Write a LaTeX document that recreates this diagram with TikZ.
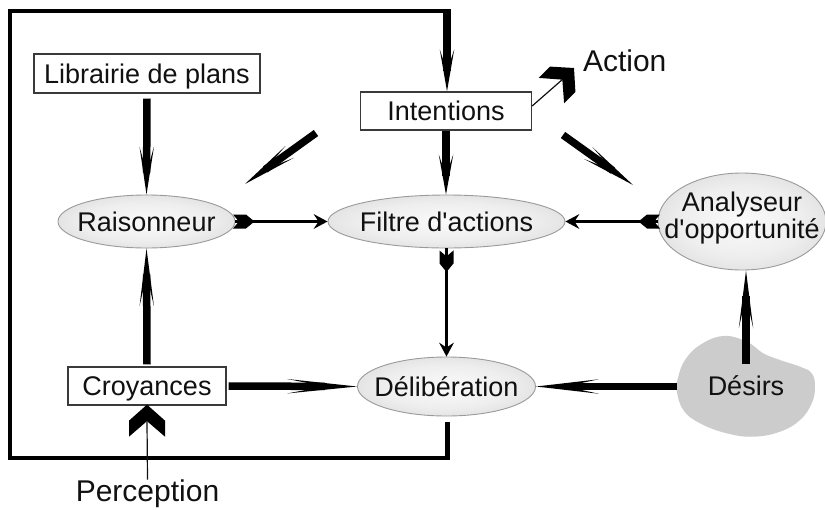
\documentclass[tikz,border=0pt]{standalone}
\usepackage{fontspec}
\setmainfont{Liberation Sans}[Ligatures=TeXOff]
\usetikzlibrary{arrows.meta,shapes.geometric,calc}

\definecolor{ellcore}{HTML}{FAFAFA}
\definecolor{ellin}{HTML}{EEEEEE}
\definecolor{ellout}{HTML}{C2C2C2}
\definecolor{ellrim}{HTML}{9A9A9A}
\definecolor{boxrim}{HTML}{3A3A3A}
\definecolor{blobgray}{HTML}{CCCCCC}
\definecolor{ink}{HTML}{111111}

% soft radial fill for the process ellipses
\pgfdeclareradialshading{ellshade}{\pgfpoint{0bp}{0bp}}{color(0bp)=(ellcore); color(18bp)=(ellin); color(50bp)=(ellout)}

\tikzset{
  lbltext/.style={font=\fontsize{27pt}{25pt}\selectfont, text=ink,
    text height=19.3pt, text depth=0pt, inner sep=0pt},
  plainbox/.style={lbltext, rectangle, draw=boxrim, line width=1.3pt, fill=white},
  ellnode/.style={lbltext, ellipse, draw=ellrim, line width=0.9pt,
    shade, shading=ellshade, inner xsep=-12pt},
  outerlbl/.style={font=\fontsize{30pt}{32pt}\selectfont, text=ink,
    text height=21.5pt, text depth=0pt, inner sep=0pt},
  spear/.style 2 args={draw=black, line width=7.5pt,
    -{Stealth[length=#1, width=14.5pt, inset=#2, line width=0pt]}},
  thinarrow/.style={draw=black, line width=2.2pt,
    -{Stealth[length=14pt, width=15pt, inset=5pt, line width=0pt]}},
  frame/.style={draw=black, line width=3.2pt, line join=miter},
  pics/tailmark/.style={code={
    \fill (0,0) -- (-8.5,7) -- (-21.5,7) -- (-15.5,0) -- (-21.5,-7) -- (-8.5,-7) -- cycle;}},
  pics/bigchevron/.style={code={
    \fill (0,0) -- (-16,18) -- (-32,18) -- (-16.5,0) -- (-32,-18) -- (-16,-18) -- cycle;}},
}

\begin{document}
\begin{tikzpicture}[x=1pt, y=-1pt]
\useasboundingbox (0,0) rectangle (825,509);

% outer loop frame
\coordinate (ftl) at (10,11);
\coordinate (ftr) at (447,11);
\coordinate (fbl) at (10,458);
\coordinate (fbr) at (447,458);

% desire blob
\fill[blobgray] plot[smooth cycle, tension=0.7] coordinates {
  (723.3,336) (746.7,341.7) (763.3,353.3) (780,360) (800,366.7) (811.7,373.3)
  (815,386.7) (811.7,403.3) (800,420) (780,431.7) (753.3,436.7) (726.7,433.3)
  (700,423.3) (683.3,410) (676.7,390) (678.3,376.7) (685,360) (700,345)};

% nodes
\node[plainbox, minimum width=226pt, minimum height=39pt] (lib) at (147,73.5) {Librairie de plans};
\node[plainbox, minimum width=171pt, minimum height=38pt] (int) at (446,111) {Intentions};
\node[plainbox, minimum width=158pt, minimum height=38pt] (cro) at (147,386) {Croyances};
\node[ellnode, minimum width=177pt, minimum height=53pt] (rais) at (146.5,221.5) {Raisonneur};
\node[ellnode, minimum width=237pt, minimum height=53pt] (filt) at (446.5,221.5) {Filtre d'actions};
\node[ellnode, minimum width=178pt, minimum height=59pt] (delib) at (446.5,386.5) {Délibération};
\node[ellnode, minimum width=168pt, minimum height=97pt] (analy) at (742,221.5) {};
\node[font=\fontsize{27pt}{25pt}\selectfont, text=ink, align=center, inner sep=0pt]
  (analytext) at (742,218) {Analyseur\\d'opportunité};
\node[lbltext] (des) at (746,386) {Désirs};
\node[outerlbl] (actlbl) at (624.7,60.3) {Action};
\node[outerlbl] (perc) at (147.5,490.5) {Perception};

\coordinate (desup) at (746,364);
\coordinate (deswest) at (677,386.5);
\coordinate (dlA) at (316,133);
\coordinate (dlB) at (245,184);
\coordinate (drA) at (563,135);
\coordinate (drB) at (633,185);
\coordinate (acttip) at (574,68);
\coordinate (perctip) at ($(cro.south)+(0,-1)$);

% frame
\draw[frame] (fbr) -- (fbl) -- (ftl) -- (ftr);
\draw[line width=5pt] ([yshift=-6pt]delib.south -| fbr) -- ([yshift=-1.6pt]fbr);
\draw[spear={42pt}{22pt}] ([yshift=1.6pt]ftr) -- (ftr |- int.north);

% heavy flows
\draw[spear={48pt}{26pt}] ([yshift=-5pt]lib.south) -- (rais.north);
\draw[spear={58pt}{32pt}] ([yshift=2pt]cro.north) -- (rais.south);
\draw[spear={40pt}{21pt}] (int.south) -- (int.south |- filt.north);
\draw[spear={70pt}{38pt}] ([xshift=2pt]cro.east) -- (delib.west);
\draw[spear={63pt}{34pt}] (deswest) -- (delib.east);
\draw[spear={58pt}{32pt}] (desup) -- (desup |- analy.south);
\draw[spear={55pt}{30pt}] (dlA) -- (dlB);
\draw[spear={55pt}{30pt}] (drA) -- (drB);

% light flows with fletched tails
\draw[thinarrow] (rais.east) -- (filt.west);
\pic at ([xshift=19pt]rais.east) {tailmark};
\draw[thinarrow] (analy.west) -- (filt.east);
\pic[rotate=180] at ([xshift=-19pt]analy.west) {tailmark};
\draw[thinarrow] (filt.south) -- (delib.north);
\pic[rotate=-90] at ([yshift=-23.5pt]filt.south) {tailmark};

% action output
\draw[line width=1.2pt, draw=ink] ([yshift=5pt]int.east) -- ($(acttip)+(-11,11)$);
\pic[rotate=45] at (acttip) {bigchevron};

% perception input
\draw[line width=1.2pt, draw=ink] (perc.north) -- ($(perctip)+(0,17)$);
\pic[rotate=90] at (perctip) {bigchevron};
\end{tikzpicture}
\end{document}
